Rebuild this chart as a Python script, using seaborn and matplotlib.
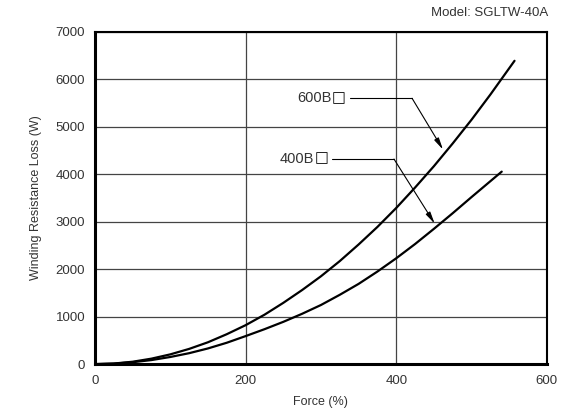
import numpy as np
import matplotlib
matplotlib.use("Agg")
import matplotlib.pyplot as plt
import pandas as pd
import seaborn as sns

sns.set_style("white")
plt.rcParams['font.family'] = ['Liberation Sans', 'DejaVu Sans']

# values
force_600 = [0, 25, 50, 75, 100, 125, 150, 175, 200, 225, 250, 275, 300,
             325, 350, 375, 400, 425, 450, 475, 500, 525, 557]
loss_600 = [0, 12, 50, 115, 205, 320, 460, 630, 820, 1040, 1290, 1560, 1850,
            2170, 2520, 2890, 3290, 3720, 4170, 4650, 5150, 5680, 6390]
force_400 = [0, 25, 50, 75, 100, 125, 150, 175, 200, 225, 250, 275, 300,
             325, 350, 375, 400, 425, 450, 475, 500, 540]
loss_400 = [0, 10, 40, 85, 150, 230, 330, 450, 590, 735, 890, 1060, 1245,
            1460, 1690, 1950, 2230, 2530, 2850, 3180, 3520, 4055]
series_names = ["600B", "400B"]
x_ticks = [0, 200, 400, 600]
y_ticks = [0, 1000, 2000, 3000, 4000, 5000, 6000, 7000]

df = pd.concat([
    pd.DataFrame({"force": force_600, "loss": loss_600, "model": series_names[0]}),
    pd.DataFrame({"force": force_400, "loss": loss_400, "model": series_names[1]}),
])

fig = plt.figure(figsize=(5.65, 4.19), dpi=100)
ax = fig.add_axes([0.168, 0.131, 0.800, 0.793])

ax.grid(True, color="#444444", lw=0.9)
ax.set_axisbelow(True)
sns.lineplot(data=df, x="force", y="loss", hue="model",
             palette=["black", "black"], lw=1.6, legend=False, ax=ax)

ax.set_xlim(0, 600)
ax.set_ylim(0, 7000)
ax.set_xticks(x_ticks)
ax.set_yticks(y_ticks)
ax.tick_params(length=0, labelsize=9.5, labelcolor="#333333")
ax.tick_params(axis="y", pad=7)
ax.tick_params(axis="x", pad=8)
ax.set_xlabel("Force (%)", fontsize=9, color="#333333", labelpad=6)
ax.set_ylabel("Winding Resistance Loss (W)", fontsize=9, color="#333333", labelpad=10)

for side in ["left", "bottom"]:
    ax.spines[side].set_linewidth(2.2)
    ax.spines[side].set_color("black")
for side in ["top", "right"]:
    ax.spines[side].set_linewidth(1.5)
    ax.spines[side].set_color("black")

# callouts: label end, knee, arrow tip
callouts = [
    (series_names[0], (333, 5620), (338, 421, 5600), (462, 4520)),
    (series_names[1], (310, 4340), (315, 397, 4320), (451, 2960)),
]
for name, txt_pos, (x0, x1, yl), tip in callouts:
    ax.annotate("\u25a1", xy=txt_pos, ha="right", va="center",
                fontsize=10.5, fontweight="bold", color="black",
                family="DejaVu Sans")
    ax.annotate(name, xy=txt_pos, xytext=(-10.5, -0.5), textcoords="offset points",
                ha="right", va="center", fontsize=10.5, color="#333333")
    ax.plot([x0, x1], [yl, yl], color="black", lw=0.8)
    ax.annotate("", xy=tip, xytext=(x1, yl),
                arrowprops=dict(arrowstyle="-|>,head_length=0.7,head_width=0.15",
                                color="black", lw=0.8, shrinkA=0, shrinkB=0))

fig.text(0.970, 0.968, "Model: SGLTW-40A", ha="right", va="center",
         fontsize=9.5, color="#333333")

fig.savefig("out.png", dpi=100)
